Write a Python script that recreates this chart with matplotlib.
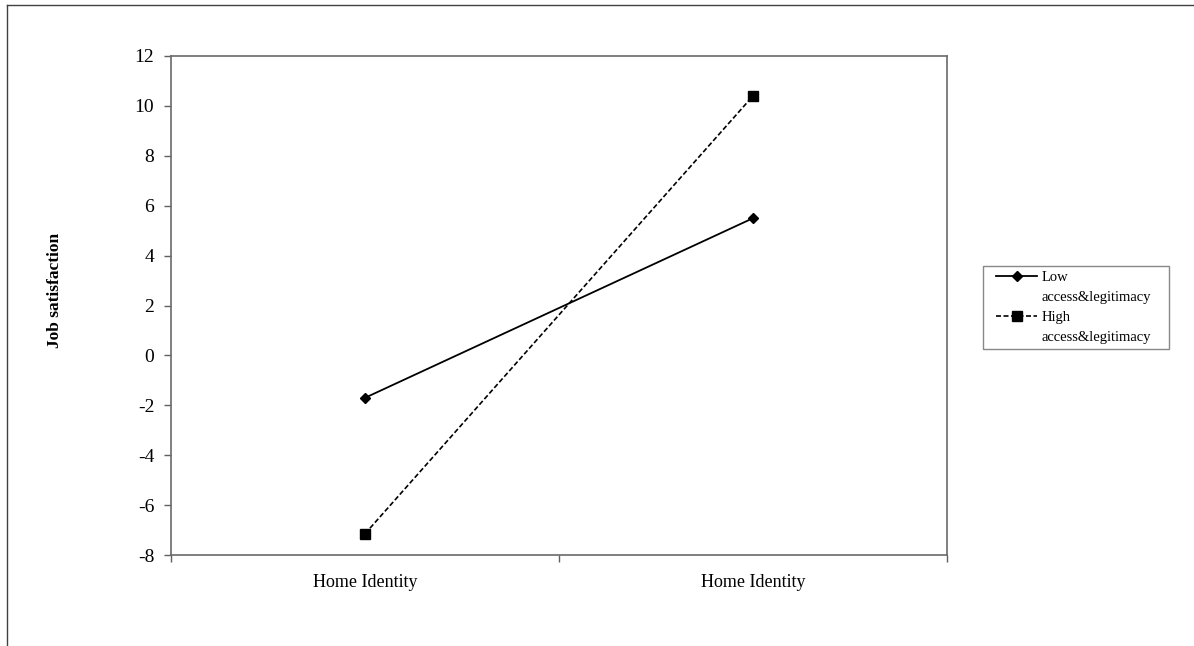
import matplotlib.pyplot as plt
from matplotlib.lines import Line2D
from matplotlib.legend_handler import HandlerLine2D

plt.rcParams['font.family'] = ['Liberation Serif', 'DejaVu Serif']
plt.rcParams['axes.unicode_minus'] = False

x_pos = [0.5, 1.5]
categories = ["Home Identity", "Home Identity"]
low = [-1.7, 5.5]
high = [-7.15, 10.4]
names = ["Low", "High"]
second_line = "access&legitimacy"

fig = plt.figure(figsize=(11.94, 6.46), dpi=100)
ax = fig.add_axes([171 / 1194, 91 / 646, 776 / 1194, 499 / 646])

l1, = ax.plot(x_pos, low, color='black', lw=1.3, marker='D', ms=5)
l2, = ax.plot(x_pos, high, color='black', lw=1.2, ls=(0, (3, 1.5)), marker='s', ms=7)

ax.set_xlim(0, 2)
ax.set_ylim(-8, 12)
ax.set_yticks(range(-8, 13, 2))
ax.set_xticks([0, 1, 2])
ax.set_xticklabels([])
ax.set_xticks(x_pos, minor=True)
ax.set_xticklabels(categories, minor=True)
ax.tick_params(axis='x', which='minor', length=0, pad=14, labelsize=13)
ax.tick_params(axis='both', which='major', length=5, width=1, color='#606060',
               labelsize=14, pad=7)
for s in ax.spines.values():
    s.set_color('#6a6a6a')
    s.set_linewidth(1.2)

fig.text(55 / 1194, 1 - 290 / 646, "Job satisfaction", rotation=90, fontsize=12.5,
         fontweight='bold', ha='center', va='center')

blank = Line2D([], [], lw=0)
hmap = {l1: HandlerLine2D(xpad=0.55), l2: HandlerLine2D(xpad=0.55)}
leg = fig.legend([l1, blank, l2, blank], [names[0], second_line, names[1], second_line],
                 loc='upper left',
                 bbox_to_anchor=(983 / 1194, 1 - 266 / 646, 186 / 1194, 0.0),
                 mode='expand', handler_map=hmap,
                 fontsize=10.5, frameon=True, fancybox=False, handlelength=3.35,
                 borderpad=0.35, labelspacing=0.45, handletextpad=0.3,
                 borderaxespad=0)
leg.get_frame().set_edgecolor('#6a6a6a')
leg.get_frame().set_linewidth(1.0)

# outer frame of the figure (left and top edges only visible)
fig.add_artist(Line2D([7 / 1194, 7 / 1194], [0, 1 - 5 / 646], transform=fig.transFigure,
                      color='#404040', lw=1))
fig.add_artist(Line2D([7 / 1194, 1], [1 - 5 / 646, 1 - 5 / 646], transform=fig.transFigure,
                      color='#404040', lw=1))

fig.savefig("out.png", dpi=100)
